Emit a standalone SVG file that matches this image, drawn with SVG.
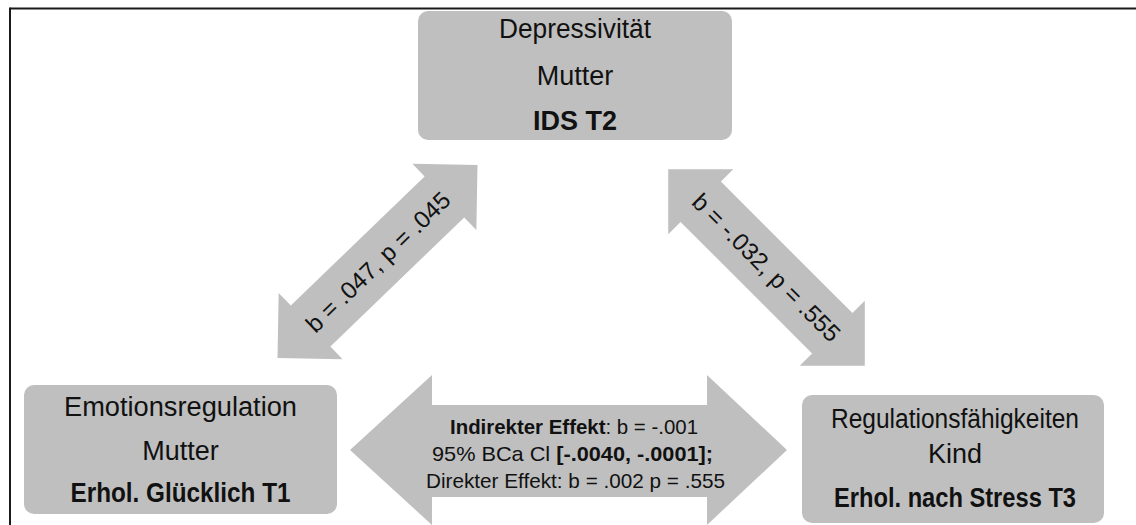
<svg xmlns="http://www.w3.org/2000/svg" width="1136" height="525" viewBox="0 0 1136 525">
<style>
.box{fill:#bfbfbf;}
.arrow{fill:#bfbfbf;}
.t{font-family:"Liberation Sans",Arial,sans-serif;font-size:27px;fill:#111;text-anchor:middle;}
.b{font-weight:bold;}
.lbl{font-family:"Liberation Sans",Arial,sans-serif;font-size:21px;fill:#111;text-anchor:middle;}
.dl{font-family:"Liberation Sans",Arial,sans-serif;font-size:24px;fill:#111;text-anchor:middle;}
</style>
<defs>
<polygon id="diag" points="-139,0 -93,-46 -93,-28.5 93,-28.5 93,-46 139,0 93,46 93,28.5 -93,28.5 -93,46"/>
</defs>
<rect width="1136" height="525" fill="#ffffff"/>
<g id="frame" stroke="#1a1a1a" stroke-width="2" fill="none">
<line x1="10" y1="8.5" x2="1136" y2="8.5"/>
<line x1="10" y1="7.5" x2="10" y2="525"/>
</g>
<g id="connectors">
<g id="arrow-left" transform="translate(377.5,261.5) rotate(-44)">
<use href="#diag" class="arrow"/>
<text class="dl" x="0" y="9" textLength="190" lengthAdjust="spacingAndGlyphs">b = .047, p = .045</text>
</g>
<g id="arrow-right" transform="translate(766.5,267.5) rotate(45)">
<use href="#diag" class="arrow"/>
<text class="dl" x="0" y="8.5" textLength="198" lengthAdjust="spacingAndGlyphs">b = -.032, p = .555</text>
</g>
<g id="arrow-bottom">
<polygon class="arrow" points="350,450 432,375 432,405 707,405 707,375 787,450 707,525 707,497 432,497 432,525"/>
<text class="lbl" x="574" y="434" textLength="248" lengthAdjust="spacingAndGlyphs"><tspan class="b">Indirekter Effekt</tspan>: b = -.001</text>
<text class="lbl" x="572.5" y="461" textLength="281" lengthAdjust="spacingAndGlyphs">95% BCa Cl <tspan class="b">[-.0040, -.0001];</tspan></text>
<text class="lbl" x="575.5" y="488" textLength="299" lengthAdjust="spacingAndGlyphs">Direkter Effekt: b = .002 p = .555</text>
</g>
</g>
<g id="node-top">
<rect class="box" x="418" y="11" width="314" height="129" rx="10"/>
<text class="t" x="575" y="38" textLength="152" lengthAdjust="spacingAndGlyphs">Depressivität</text>
<text class="t" x="575" y="85">Mutter</text>
<text class="t b" x="575" y="130">IDS T2</text>
</g>
<g id="node-left">
<rect class="box" x="24" y="385" width="313" height="129" rx="10"/>
<text class="t" x="180.5" y="416" textLength="233" lengthAdjust="spacingAndGlyphs">Emotionsregulation</text>
<text class="t" x="180.5" y="460">Mutter</text>
<text class="t b" x="180.5" y="502" textLength="220" lengthAdjust="spacingAndGlyphs">Erhol. Glücklich T1</text>
</g>
<g id="node-right">
<rect class="box" x="802" y="395" width="302" height="128" rx="10"/>
<text class="t" x="955" y="428" textLength="248" lengthAdjust="spacingAndGlyphs">Regulationsfähigkeiten</text>
<text class="t" x="955" y="463">Kind</text>
<text class="t b" x="955" y="507" textLength="242" lengthAdjust="spacingAndGlyphs">Erhol. nach Stress T3</text>
</g>
</svg>
